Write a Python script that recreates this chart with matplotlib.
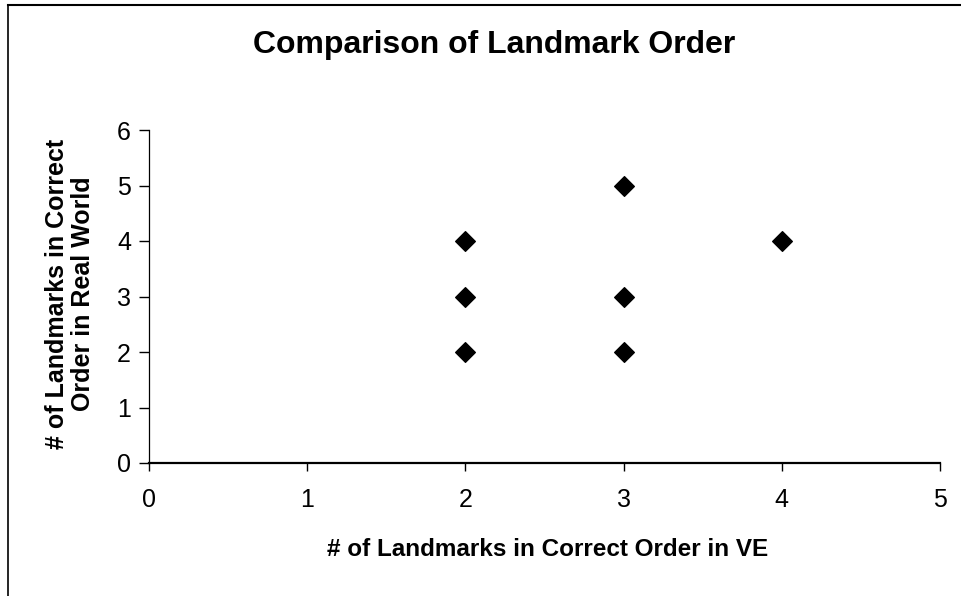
import matplotlib
matplotlib.use("Agg")
import matplotlib.pyplot as plt
from matplotlib.lines import Line2D

plt.rcParams['font.family'] = ['Liberation Sans', 'DejaVu Sans']

x_vals = [2, 2, 2, 3, 3, 3, 4]
y_vals = [4, 3, 2, 5, 3, 2, 4]
x_ticks = [0, 1, 2, 3, 4, 5]
y_ticks = [0, 1, 2, 3, 4, 5, 6]
title = "Comparison of Landmark Order"
xlabel = "# of Landmarks in Correct Order in VE"
ylabel = "# of Landmarks in Correct\nOrder in Real World"

W, H = 961, 596
fig = plt.figure(figsize=(W/100, H/100), dpi=100)
ax = fig.add_axes([149/W, 1-463/H, (940-149)/W, (463-130)/H])

ax.scatter(x_vals, y_vals, marker='D', s=100, color='black', zorder=3, clip_on=False)
ax.set_xlim(0, 5)
ax.set_ylim(0, 6)
ax.set_xticks(x_ticks)
ax.set_yticks(y_ticks)
for s in ['top', 'right']:
    ax.spines[s].set_visible(False)
ax.spines['bottom'].set_linewidth(1.6)
ax.spines['left'].set_linewidth(0.9)
ax.tick_params(axis='x', direction='out', length=6, width=1, labelsize=18, pad=12)
ax.tick_params(axis='y', direction='out', length=7, width=1, labelsize=18, pad=6)

fig.text(494/W, 1-45/H, title, ha='center', va='center', fontsize=23, fontweight='bold')
fig.text(548/W, 1-550/H, xlabel, ha='center', va='center', fontsize=17.5, fontweight='bold')
fig.text(70/W, 1-294/H, ylabel, ha='center', va='center', fontsize=18, fontweight='bold',
         rotation=90, multialignment='center', linespacing=1.15)

# outer border lines (top and left)
fig.add_artist(Line2D([8/W, 1], [1-5/H, 1-5/H], transform=fig.transFigure, color='black', lw=1.5))
fig.add_artist(Line2D([8/W, 8/W], [0, 1-5/H], transform=fig.transFigure, color='black', lw=1.2))

fig.savefig("out.png", dpi=100)
